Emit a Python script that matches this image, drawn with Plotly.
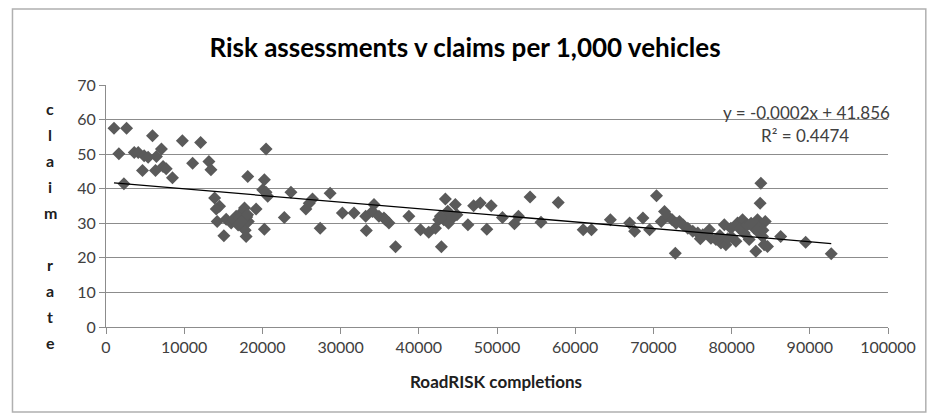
import plotly.graph_objects as go

# ---- data ----
completions = [
    1020, 2630, 1650, 2290, 3610, 4120, 4880, 5390, 4670, 5950, 6450, 7090, 6330, 7300, 7700,
    8500, 9770, 11080, 12100, 13160, 13420, 13890, 14520, 14100, 14220, 15070, 15370, 16010,
    16650, 17280, 17710, 17490, 17920, 17800, 18130, 19190, 20250, 20040, 20460, 20680, 20250,
    20470, 16300, 17000, 18000, 18200, 16900, 17600, 18100,
    23650, 22800, 25560, 25990, 26410, 27390, 28660, 30230, 31720, 33210, 33290, 34270, 34070,
    34900, 35540, 36180, 35750, 37030, 38730, 40220, 41270, 42130, 42550, 42890, 43400, 44030,
    44670, 42760, 43700, 44880, 43200, 43800, 44300, 46280, 47010, 47860, 48700, 49260, 50700,
    52230, 52740, 54230, 55630, 57830, 61020, 62080, 64500, 66960, 67600, 68660, 69520, 70400,
    71000, 71420, 71850, 72400, 72800, 73330, 72900, 73800, 74400, 75030, 75670, 76310, 77160,
    77360, 78000, 78640, 79070, 79270, 79910, 80550, 80760, 81400, 81610, 82250, 82890, 83100,
    83310, 83650, 83740, 83950, 84160, 84590, 83740, 83520, 76000, 78500, 80000, 81000, 82000,
    84300, 84000, 82500, 79500, 86280, 89470, 92740,
]
claim_rate = [
    57.5, 57.5, 50.1, 41.4, 50.5, 50.5, 49.5, 49.1, 45.3, 55.3, 49.3, 51.5, 45.3, 46.4, 45.8,
    43.2, 53.9, 47.4, 53.4, 47.9, 45.5, 37.3, 34.9, 34.1, 30.5, 26.4, 31.2, 30.1,
    32.0, 33.0, 34.4, 29.1, 26.2, 28.0, 43.5, 34.1, 42.6, 39.7, 39.0, 37.8, 28.3,
    51.5, 31.0, 31.5, 31.8, 30.5, 29.5, 31.0, 32.5,
    39.0, 31.7, 34.1, 35.8, 37.0, 28.6, 38.7, 33.0, 33.0, 32.0, 27.9, 35.4, 33.4,
    32.0, 31.5, 30.1, 31.0, 23.2, 32.0, 28.1, 27.4, 28.6, 31.0, 23.2, 37.0, 32.0,
    35.4, 32.0, 33.5, 32.5, 31.0, 30.0, 31.5, 29.6, 35.1, 35.9, 28.3, 35.1, 31.7,
    29.9, 32.0, 37.6, 30.3, 36.0, 28.1, 28.1, 31.0, 30.1, 27.7, 31.5, 28.1, 38.0,
    30.5, 33.4, 32.0, 31.0, 21.3, 30.5, 30.0, 29.5, 28.6, 27.7, 27.2, 26.7, 28.1,
    25.7, 25.3, 24.3, 29.6, 23.8, 28.6, 24.8, 30.1, 31.0, 27.2, 25.3, 28.6, 21.9,
    31.0, 35.8, 41.6, 26.2, 23.8, 23.3, 29.6, 27.2, 25.5, 26.5, 26.0, 28.5, 29.5,
    30.5, 28.0, 30.0, 25.5, 26.2, 24.5, 21.2,
]
trend_slope = -0.000191
trend_intercept = 41.856
trend_label = "y = -0.0002x + 41.856"
r2_label = "R² = 0.4474"
x_ticks = [0, 10000, 20000, 30000, 40000, 50000, 60000, 70000, 80000, 90000, 100000]
y_ticks = [0, 10, 20, 30, 40, 50, 60, 70]
title_text = "Risk assessments v claims per 1,000 vehicles"
x_title = "RoadRISK completions"
y_title = "claim rate"

# ---- layout geometry ----
W, H = 928, 415
L, R, T, B = 106, 36, 85, 88
PW, PH = W - L - R, H - T - B
px = lambda p: (p - L) / PW
py = lambda p: (H - B - p) / PH

FONT = "Lato, 'Open Sans', sans-serif"
TXT = "#404040"
GRID = "#8c8c8c"

tx = [min(completions), max(completions)]
ty = [trend_intercept + trend_slope * v for v in tx]

fig = go.Figure()
fig.add_trace(go.Scatter(
    x=completions, y=claim_rate, mode="markers",
    marker=dict(symbol="diamond", size=10, color="#5a5a5a", line=dict(width=0)),
    hoverinfo="x+y", showlegend=False,
))
fig.add_trace(go.Scatter(
    x=tx, y=ty, mode="lines", line=dict(color="#000000", width=1.3),
    hoverinfo="skip", showlegend=False,
))

annotations = [
    dict(text=trend_label, x=px(810), y=py(113), xref="paper", yref="paper",
         showarrow=False, xanchor="center", yanchor="middle",
         font=dict(family=FONT, size=17, color=TXT)),
    dict(text=r2_label, x=px(809), y=py(135), xref="paper", yref="paper",
         showarrow=False, xanchor="center", yanchor="middle",
         font=dict(family=FONT, size=17, color=TXT)),
    dict(text="<b>%s</b>" % x_title, x=px(498), y=py(381), xref="paper", yref="paper",
         showarrow=False, xanchor="center", yanchor="middle",
         font=dict(family=FONT, size=17, color="#202020")),
]
for i, ch in enumerate(y_title):
    if ch.strip():
        annotations.append(dict(
            text="<b>%s</b>" % ch, x=px(50), y=py(108 + i * 26.1), xref="paper", yref="paper",
            showarrow=False, xanchor="center", yanchor="middle",
            font=dict(family=FONT, size=16, color="#202020")))

fig.update_layout(
    width=W, height=H,
    margin=dict(l=L, r=R, t=T, b=B, pad=0),
    paper_bgcolor="white", plot_bgcolor="white",
    title=dict(text="<b>%s</b>" % title_text, x=465 / W, y=1 - 48 / H,
               xref="container", yref="container", xanchor="center", yanchor="middle",
               font=dict(family=FONT, size=26, color="#000000")),
    xaxis=dict(range=[0, 100000], tickvals=x_ticks, ticktext=[str(v) for v in x_ticks],
               showgrid=False, zeroline=False, showline=True, linecolor=GRID, linewidth=1,
               ticks="outside", ticklen=6, tickcolor=GRID,
               tickfont=dict(family=FONT, size=16, color=TXT)),
    yaxis=dict(range=[0, 70], tickvals=y_ticks, showgrid=True, gridcolor=GRID, gridwidth=1,
               zeroline=False, showline=True, linecolor=GRID, linewidth=1,
               ticks="outside", ticklen=6, tickcolor=GRID,
               tickfont=dict(family=FONT, size=16, color=TXT)),
    annotations=annotations,
    shapes=[dict(type="rect", xref="paper", yref="paper",
                 x0=px(12), x1=px(930), y0=py(412), y1=py(9),
                 line=dict(color="#b0b0b0", width=1.5), fillcolor="rgba(0,0,0,0)", layer="below")],
)

fig.write_html("out.html", config={"displayModeBar": False},
               post_script="document.body.style.margin='0';document.body.style.padding='0';")
